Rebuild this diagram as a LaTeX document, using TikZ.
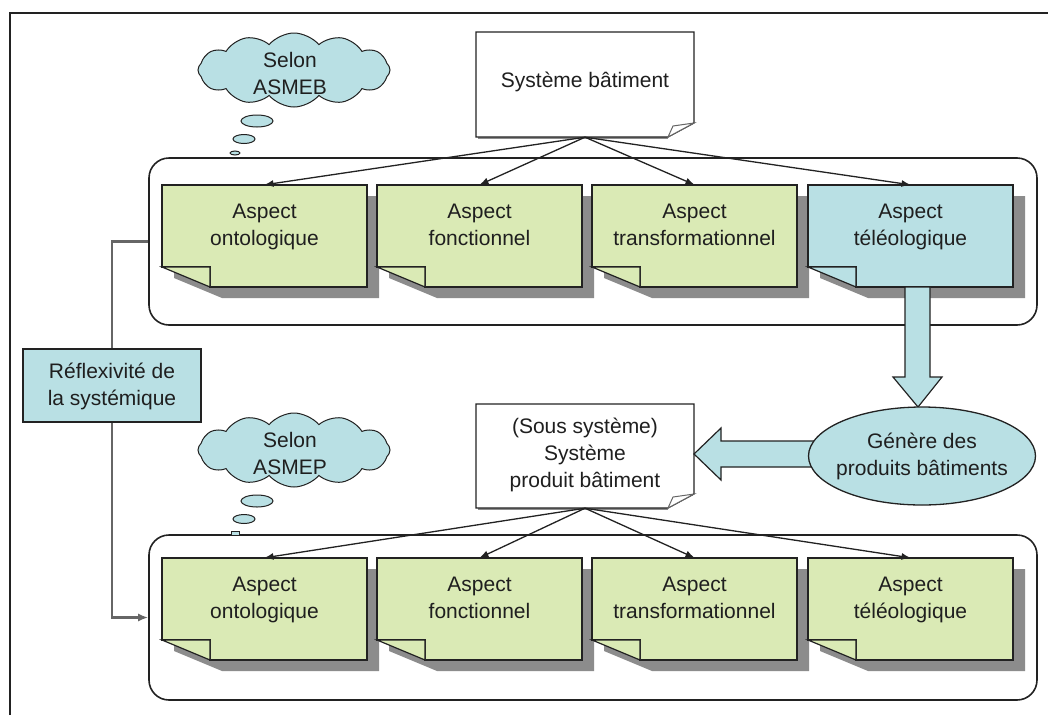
\documentclass[tikz,border=0pt]{standalone}
\usepackage{fontspec}
\setmainfont{Liberation Sans}
\usetikzlibrary{shapes.symbols,shapes.geometric,arrows.meta,calc}
\definecolor{greenf}{HTML}{DAEAB5}
\definecolor{bluef}{HTML}{B9E0E4}
\definecolor{shadowc}{HTML}{8C8C8C}
\definecolor{linec}{HTML}{222222}
\tikzset{
  txt/.style={font=\fontsize{21}{27}\selectfont, align=center, text=black!88, inner sep=0pt},
  boxnode/.style={minimum width=205pt, minimum height=102pt, inner sep=0pt, draw=none},
  conn/.style={line width=1.3pt, draw=linec, -{Latex[length=9pt,width=7pt]}},
  refl/.style={line width=2.2pt, draw=black!60},
  container/.style={draw=linec, line width=1.6pt, rounded corners=20pt, inner sep=0pt},
  thought/.style={cloud, cloud puffs=12, cloud puff arc=100, aspect=2.8, fill=bluef, draw=linec, line width=1pt, minimum width=192pt, minimum height=74pt, inner sep=0pt},
  bubble/.style={ellipse, fill=bluef, draw=linec, line width=1pt, inner sep=0pt},
  blockarrow/.style={fill=bluef, draw=linec, line width=1.2pt, line join=miter},
}
\newcommand\notebox[5]{%
  \fill[shadowc] ({#2+12},{#3+11}) -- ({#2+217},{#3+11}) -- ({#2+217},{#3+113}) -- ({#2+60},{#3+113}) -- ({#2+12},{#3+93}) -- cycle;
  \filldraw[fill=#4, draw=linec, line width=1.2pt] (#2,#3) -- ({#2+205},#3) -- ({#2+205},{#3+102}) -- ({#2+48},{#3+102}) -- ({#2+48},{#3+82}) -- (#2,{#3+82}) -- cycle;
  \filldraw[fill=#4, draw=linec, line width=1.2pt] (#2,{#3+82}) -- ({#2+48},{#3+82}) -- ({#2+48},{#3+102}) -- cycle;
  \node[boxnode] (#1) at ({#2+102.5},{#3+51}) {};
  \node[txt, anchor=north] (#1t) at ({#2+102.5},{#3+19}) {#5};
}
\newcommand\sysbox[3]{% name, top y, bottom y
  \fill[black!45] (478,{#3}) -- (668,{#3}) -- (668,{#3+2}) -- (478,{#3+2}) -- cycle;
  \filldraw[fill=white, draw=linec, line width=1.2pt] (476,#2) -- (694,#2) -- (694,{#3-14}) -- (668,#3) -- (476,#3) -- cycle;
  \filldraw[fill=white, draw=black!60, line width=1pt] (668,#3) -- (673,{#3-11}) -- (694,{#3-14}) -- cycle;
  \node[minimum width=218pt, minimum height={#3-#2}, inner sep=0pt] (#1) at (585,{(#2+#3)/2}) {};
}
\begin{document}
\begin{tikzpicture}[x=1pt,y=-1pt]
\useasboundingbox (0,0) rectangle (1048,715);
\fill[white] (0,0) rectangle (1048,715);
% outer frame
\draw[line width=2.5pt, draw=linec] (10,715) -- (10,13) -- (1048,13);

% containers
\node[container, minimum width=888pt, minimum height=167pt] (upc) at (593,241.5) {};
\node[container, minimum width=888pt, minimum height=165pt] (loc) at (593,617.5) {};

% top system box
\sysbox{sys}{32}{137}
\node[txt] (syst) at (585,82) {Système bâtiment};

% upper notes
\notebox{ua}{162}{185}{greenf}{Aspect\\ontologique}
\notebox{ub}{377}{185}{greenf}{Aspect\\fonctionnel}
\notebox{uc}{592}{185}{greenf}{Aspect\\transformationnel}
\notebox{ud}{808}{185}{bluef}{Aspect\\téléologique}

% lower notes
\notebox{la}{162}{558}{greenf}{Aspect\\ontologique}
\notebox{lb}{377}{558}{greenf}{Aspect\\fonctionnel}
\notebox{lc}{592}{558}{greenf}{Aspect\\transformationnel}
\notebox{ld}{808}{558}{greenf}{Aspect\\téléologique}

% arrows from system boxes
\foreach \t in {ua,ub,uc,ud} \draw[conn] (sys.south) -- (\t.north);

% sub system box
\sysbox{sub}{404}{508}
\node[txt, anchor=north] (subt) at (585,418) {(Sous système)\\Système\\produit bâtiment};
\foreach \t in {la,lb,lc,ld} \draw[conn] (sub.south) -- (\t.north);

% block arrow down
\filldraw[blockarrow] (905,287) -- (930,287) -- (930,377) -- (942,377) -- (918,407) -- (893,377) -- (905,377) -- cycle;
% block arrow left
\filldraw[blockarrow] (814,441) -- (721,441) -- (721,428) -- (694,454) -- (721,480) -- (721,467) -- (814,467) -- cycle;

% ellipse
\node[ellipse, fill=bluef, draw=linec, line width=1.3pt, minimum width=227pt, minimum height=98pt, inner sep=0pt] (gen) at (922,456) {};
\node[txt, anchor=north] (gent) at (922,433) {Génère des\\produits bâtiments};

% reflexivity
\node[fill=bluef, draw=linec, line width=1.5pt, minimum width=178pt, minimum height=73pt, inner sep=0pt] (rfx) at (112,385.5) {};
\node[txt, anchor=north] (rfxt) at (112,363) {Réflexivité de\\la systémique};
\draw[refl] (rfx.north) |- (upc.west);
\draw[refl, -{Latex[length=10pt,width=8pt]}] (rfx.south) |- (loc.west);

% clouds
\node[thought] (c1) at (294,70) {};
\node[txt, anchor=north] (c1t) at (290,52) {Selon\\ASMEB};
\node[bubble, minimum width=32pt, minimum height=12pt] (c1b1) at (257,121) {};
\node[bubble, minimum width=22pt, minimum height=9pt] (c1b2) at (244,139) {};
\node[bubble, minimum width=10pt, minimum height=4pt] (c1b3) at (235,153) {};

\node[thought] (c2) at (294,450) {};
\node[txt, anchor=north] (c2t) at (290,432) {Selon\\ASMEP};
\node[bubble, minimum width=32pt, minimum height=12pt] (c2b1) at (257,501) {};
\node[bubble, minimum width=22pt, minimum height=9pt] (c2b2) at (244,519) {};
\node[rectangle, fill=bluef, draw=linec, line width=0.8pt, minimum width=8pt, minimum height=4pt, inner sep=0pt] (c2b3) at (235,533) {};
\end{tikzpicture}
\end{document}
